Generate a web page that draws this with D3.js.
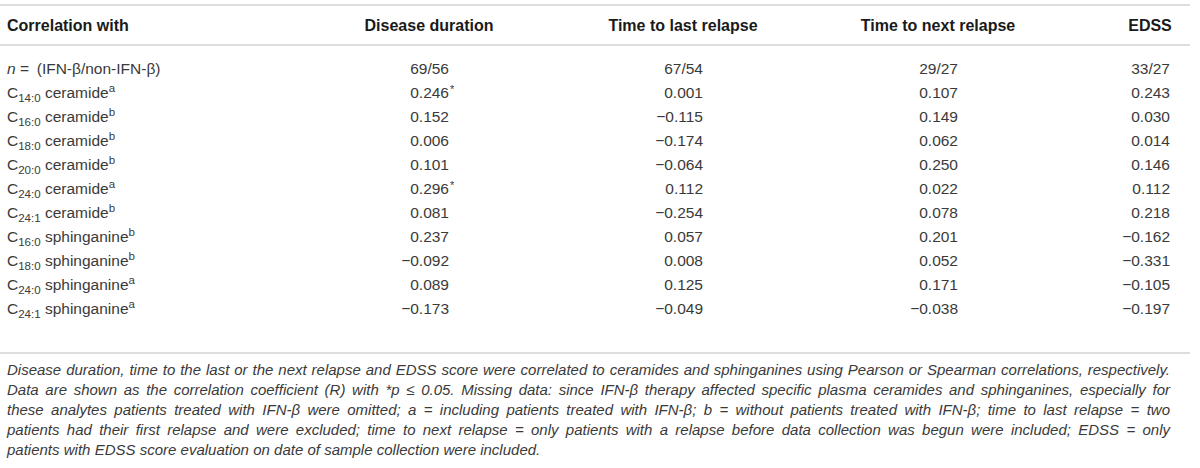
<!DOCTYPE html>
<html>
<head>
<meta charset="utf-8">
<script src="https://cdn.jsdelivr.net/npm/d3@7"></script>
<style>
  body { margin: 0; background: #fff; }
  svg text { font-family: "Liberation Sans", Arial, sans-serif; }
  .body { fill: #3a3a3a; font-size: 15.5px; }
  .head { font-weight: bold; fill: #1a1a1a; font-size: 16px; }
  .note { font-style: italic; fill: #3a3a3a; font-size: 15px; }
</style>
</head>
<body>
<div id="table"></div>
<script>
// column headers
var columns = ["Disease duration", "Time to last relapse", "Time to next relapse", "EDSS"];

// row labels: carbon chain (subscript), analyte, footnote mark
var chains = ["14:0", "16:0", "18:0", "20:0", "24:0", "24:1", "16:0", "18:0", "24:0", "24:1"];
var analytes = ["ceramide", "ceramide", "ceramide", "ceramide", "ceramide", "ceramide",
                "sphinganine", "sphinganine", "sphinganine", "sphinganine"];
var marks = ["a", "b", "b", "b", "a", "b", "b", "b", "a", "a"];

// n = (IFN-b / non-IFN-b) per column
var nCounts = ["69/56", "67/54", "29/27", "33/27"];

// correlation coefficients per column
var diseaseDuration = [0.246, 0.152, 0.006, 0.101, 0.296, 0.081, 0.237, -0.092, 0.089, -0.173];
var lastRelapse     = [0.001, -0.115, -0.174, -0.064, 0.112, -0.254, 0.057, 0.008, 0.125, -0.049];
var nextRelapse     = [0.107, 0.149, 0.062, 0.250, 0.022, 0.078, 0.201, 0.052, 0.171, -0.038];
var edss            = [0.243, 0.030, 0.014, 0.146, 0.112, 0.218, -0.162, -0.331, -0.105, -0.197];
// significant (*p <= 0.05) cells: [row, column]
var significant = [[0, 0], [4, 0]];

var footnote = [
  "Disease duration, time to the last or the next relapse and EDSS score were correlated to ceramides and sphinganines using Pearson or Spearman correlations, respectively.",
  "Data are shown as the correlation coefficient (R) with *p \u2264 0.05. Missing data: since IFN-\u03b2 therapy affected specific plasma ceramides and sphinganines, especially for",
  "these analytes patients treated with IFN-\u03b2 were omitted; a = including patients treated with IFN-\u03b2; b = without patients treated with IFN-\u03b2; time to last relapse = two",
  "patients had their first relapse and were excluded; time to next relapse = only patients with a relapse before data collection was begun were included; EDSS = only",
  "patients with EDSS score evaluation on date of sample collection were included."
];

var values = [diseaseDuration, lastRelapse, nextRelapse, edss];

var width = 1200, height = 468;
var left = 7, right = 1170;

var svg = d3.select("#table").append("svg")
    .attr("width", width)
    .attr("height", height);

// vertical layout
var headerY = 31;
var rowY = d3.scaleLinear().domain([0, 11]).range([73.5, 337.5]);
var colRight = d3.scaleOrdinal().domain(columns).range([449, 703, 958, 1170]);

function fmt(v) {
  var s = d3.format(".3f")(Math.abs(v));
  return (v < 0 ? "\u2212" : "") + s;
}

// rules
[5, 45, 353].forEach(function (y) {
  svg.append("line")
      .attr("x1", 0).attr("x2", 1190)
      .attr("y1", y).attr("y2", y)
      .style("stroke", "#dedede")
      .style("stroke-width", 2);
});

// header
svg.append("text").attr("class", "head")
    .attr("x", left).attr("y", headerY)
    .text("Correlation with");

svg.selectAll("text.colhead")
    .data(columns)
  .enter().append("text")
    .attr("class", "head colhead")
    .attr("x", function (d) { return colRight(d) - 20; })
    .attr("y", headerY)
    .attr("text-anchor", "middle")
    .text(function (d) { return d; });

// n row
var nLabel = svg.append("text").attr("class", "body")
    .attr("x", left).attr("y", rowY(0));
nLabel.append("tspan").style("font-style", "italic").text("n");
nLabel.append("tspan").attr("xml:space", "preserve").text(" =\u2002(IFN-\u03b2/non-IFN-\u03b2)");

svg.selectAll("text.ncount")
    .data(nCounts)
  .enter().append("text")
    .attr("class", "body ncount")
    .attr("x", function (d, i) { return colRight(columns[i]); })
    .attr("y", rowY(0))
    .attr("text-anchor", "end")
    .text(function (d) { return d; });

// row labels
var labels = svg.selectAll("text.rowlabel")
    .data(chains)
  .enter().append("text")
    .attr("class", "body rowlabel")
    .attr("x", left)
    .attr("y", function (d, i) { return rowY(i + 1); });
labels.append("tspan").text("C");
labels.append("tspan")
    .attr("dy", 4)
    .style("font-size", "11.5px")
    .text(function (d) { return d; });
labels.append("tspan")
    .attr("dy", -4)
    .text(function (d, i) { return " " + analytes[i]; });
labels.append("tspan")
    .attr("dy", -6)
    .style("font-size", "11.5px")
    .text(function (d, i) { return marks[i]; });

// value cells
values.forEach(function (series, c) {
  svg.selectAll("text.cell" + c)
      .data(series)
    .enter().append("text")
      .attr("class", "body cell" + c)
      .attr("x", colRight(columns[c]))
      .attr("y", function (d, i) { return rowY(i + 1); })
      .attr("text-anchor", "end")
      .text(function (d) { return fmt(d); });
});

significant.forEach(function (s) {
  svg.append("text")
      .attr("class", "body")
      .attr("x", colRight(columns[s[1]]) + 1)
      .attr("y", rowY(s[0] + 1) - 5)
      .style("font-size", "11px")
      .text("*");
});

// footnote, justified except for the last line
var noteY = d3.scaleLinear().domain([0, 4]).range([375, 455]);
footnote.forEach(function (line, li) {
  var words = line.split(" ");
  var g = svg.append("g");
  var nodes = words.map(function (w) {
    return g.append("text").attr("class", "note").attr("y", noteY(li)).text(w);
  });
  var widths = nodes.map(function (n) { return n.node().getComputedTextLength(); });
  var total = d3.sum(widths);
  var space = 4.2;
  if (li < footnote.length - 1) space = (right - left - total) / (words.length - 1);
  var x = left;
  nodes.forEach(function (n, i) {
    n.attr("x", x);
    x += widths[i] + space;
  });
});
</script>
</body>
</html>
